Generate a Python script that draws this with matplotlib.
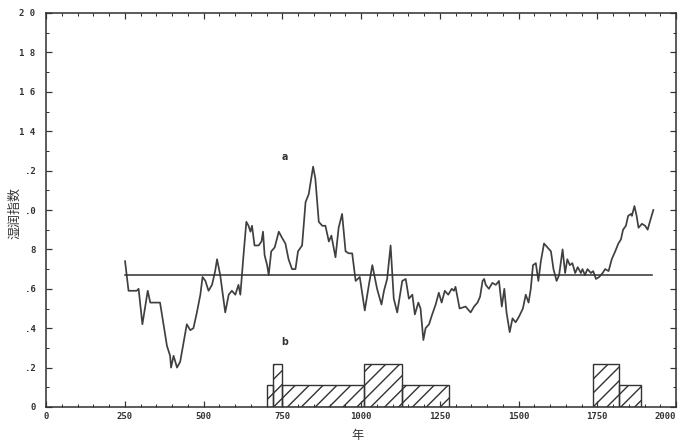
import matplotlib
matplotlib.use("Agg")
import matplotlib.pyplot as plt
from matplotlib.ticker import MultipleLocator, FixedLocator

# ---- data ----
years = [251, 256, 262, 288, 294, 306, 323, 331, 347, 362, 373, 384, 394, 397, 405,
         416, 426, 437, 447, 458, 468, 479, 490, 497, 506, 516, 527, 537, 543, 553,
         569, 580, 590, 601, 611, 617, 627, 636, 643, 649, 654, 662, 675, 684, 689,
         694, 702, 707, 715, 726, 739, 749, 760, 770, 781, 792, 800, 813, 824, 834,
         848, 855, 866, 877, 887, 898, 906, 919, 929, 940, 951, 961, 972, 983, 996,
         1012, 1025, 1036, 1051, 1065, 1073, 1083, 1094, 1104, 1115, 1131, 1142, 1152, 1163, 1171,
         1182, 1189, 1198, 1205, 1216, 1226, 1237, 1247, 1256, 1266, 1277, 1288, 1295, 1300, 1313,
         1332, 1348, 1359, 1370, 1378, 1386, 1391, 1396, 1406, 1417, 1428, 1438, 1447, 1455, 1462,
         1472, 1481, 1491, 1502, 1514, 1523, 1532, 1539, 1546, 1555, 1563, 1571, 1581, 1592, 1603,
         1611, 1621, 1629, 1640, 1648, 1655, 1663, 1671, 1680, 1688, 1698, 1703, 1711, 1719, 1730,
         1737, 1746, 1756, 1767, 1775, 1786, 1796, 1807, 1817, 1825, 1832, 1841, 1848, 1857, 1860,
         1868, 1875, 1881, 1892, 1902, 1910, 1917, 1928]
humidity = [0.74, 0.67, 0.59, 0.59, 0.60, 0.42, 0.59, 0.53, 0.53, 0.53, 0.42, 0.31, 0.26, 0.20, 0.26,
            0.20, 0.23, 0.33, 0.42, 0.39, 0.40, 0.48, 0.57, 0.66, 0.64, 0.59, 0.62, 0.69, 0.75, 0.67,
            0.48, 0.57, 0.59, 0.57, 0.62, 0.57, 0.77, 0.94, 0.92, 0.89, 0.92, 0.82, 0.82, 0.84, 0.89,
            0.77, 0.72, 0.67, 0.79, 0.81, 0.89, 0.86, 0.83, 0.75, 0.70, 0.70, 0.79, 0.82, 1.04, 1.08,
            1.22, 1.16, 0.94, 0.92, 0.92, 0.84, 0.87, 0.76, 0.91, 0.98, 0.79, 0.78, 0.78, 0.64, 0.66,
            0.49, 0.62, 0.72, 0.60, 0.52, 0.59, 0.65, 0.82, 0.55, 0.48, 0.64, 0.65, 0.55, 0.57, 0.47,
            0.53, 0.50, 0.34, 0.40, 0.42, 0.47, 0.52, 0.58, 0.53, 0.59, 0.57, 0.60, 0.59, 0.61, 0.50,
            0.51, 0.48, 0.51, 0.53, 0.56, 0.64, 0.65, 0.62, 0.60, 0.63, 0.62, 0.64, 0.51, 0.60, 0.48,
            0.38, 0.45, 0.43, 0.46, 0.50, 0.57, 0.53, 0.60, 0.72, 0.73, 0.64, 0.74, 0.83, 0.81, 0.79,
            0.70, 0.64, 0.67, 0.80, 0.68, 0.75, 0.72, 0.73, 0.68, 0.71, 0.68, 0.70, 0.67, 0.70, 0.68,
            0.69, 0.65, 0.66, 0.68, 0.70, 0.69, 0.75, 0.79, 0.83, 0.85, 0.90, 0.92, 0.97, 0.98, 0.97,
            1.02, 0.97, 0.91, 0.93, 0.92, 0.90, 0.94, 1.00]
mean_years = [250, 1925]
mean_value = 0.67

# histogram b: bin edges and heights
bar_edges_1 = [700, 720, 750, 1010, 1130, 1280]
bar_heights_1 = [0.11, 0.22, 0.11, 0.22, 0.11]
bar_edges_2 = [1735, 1820, 1890]
bar_heights_2 = [0.22, 0.11]

x_tick_values = [0, 250, 500, 750, 1000, 1250, 1500, 1750, 2000]
x_tick_labels = ["0", "250", "500", "750", "1000", "1250", "1500", "1750", "2000"]
y_tick_values = [0, 0.2, 0.4, 0.6, 0.8, 1.0, 1.2, 1.4, 1.6, 1.8, 2.0]
y_tick_labels = ["0", ".2", ".4", ".6", "8", ".0", ".2", "1 4", "1 6", "1 8", "2 0"]

# ---- figure ----
DPI = 125
ink = "#333333"
plt.rcParams['hatch.linewidth'] = 0.8
plt.rcParams['hatch.color'] = ink
fig = plt.figure(figsize=(682 / DPI, 446 / DPI), dpi=DPI)
ax = fig.add_axes([46 / 682, 1 - 407 / 446, 630 / 682, 394 / 446])

ax.plot(years, humidity, color="#404040", lw=1.0, zorder=3)
ax.plot(mean_years, [mean_value, mean_value], color=ink, lw=0.9, zorder=3)

for edges, heights in ((bar_edges_1, bar_heights_1), (bar_edges_2, bar_heights_2)):
    lefts = edges[:-1]
    widths = [b - a for a, b in zip(edges[:-1], edges[1:])]
    ax.bar(lefts, heights, width=widths, align="edge", facecolor="none",
           edgecolor=ink, linewidth=0.8, hatch="///", zorder=2)

ax.set_xlim(0, 2000)
ax.set_ylim(0, 2.0)

tick_font = dict(family="DejaVu Sans Mono", weight="bold", size=5.2)
ax.xaxis.set_major_locator(FixedLocator(x_tick_values))
ax.set_xticklabels(x_tick_labels, **tick_font)
ax.xaxis.set_minor_locator(MultipleLocator(50))
ax.yaxis.set_major_locator(FixedLocator(y_tick_values))
ax.set_yticklabels(y_tick_labels, **tick_font)
ax.yaxis.set_minor_locator(MultipleLocator(0.1))
ax.get_xticklabels()[-1].set_horizontalalignment("right")

ax.tick_params(axis="both", which="both", direction="in", colors=ink,
               top=True, right=True, labeltop=False, labelright=False)
ax.tick_params(axis="both", which="major", length=3.2, width=0.7, pad=3)
ax.tick_params(axis="both", which="minor", length=2.0, width=0.6)
ax.tick_params(axis="y", which="major", pad=6)

for s in ax.spines.values():
    s.set_color(ink)
    s.set_linewidth(0.9)

ax.text(759, 1.27, "a", ha="center", va="center", fontsize=5.5, weight="bold", color=ink)
ax.text(756, 0.33, "b", ha="center", va="center", fontsize=5.5, weight="bold", color=ink)

cjk = ["Noto Sans CJK SC", "DejaVu Sans"]
fig.text(15 / 682, 1 - 213 / 446, "湿润指数", rotation=90, ha="center", va="center",
         family=cjk, fontsize=7.5, color=ink)
fig.text(357 / 682, 1 - 436 / 446, "年", ha="center", va="center",
         family=cjk, fontsize=7, color=ink)

fig.savefig("out.png", dpi=DPI, facecolor="white")
